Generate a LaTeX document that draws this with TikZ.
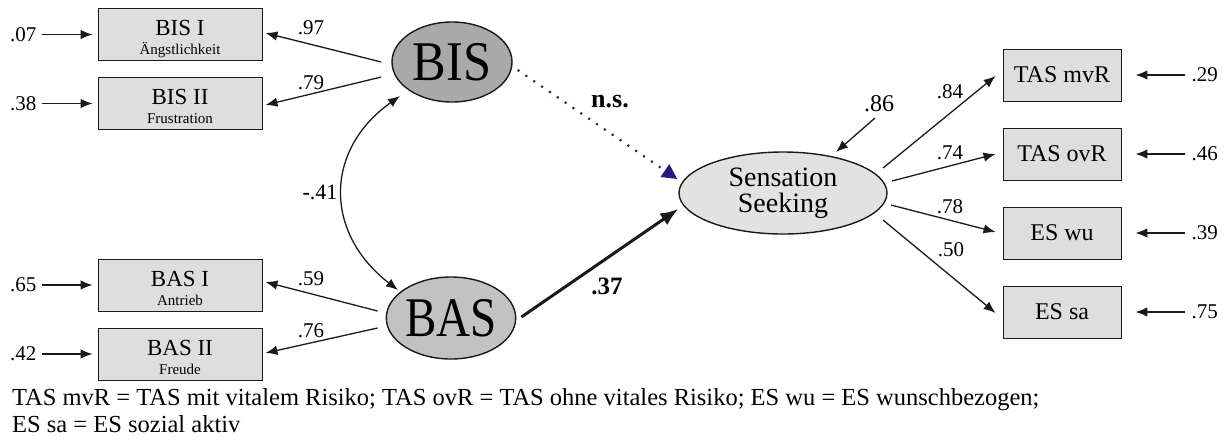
\documentclass[tikz,border=0pt]{standalone}
\usepackage{fontspec}
\setmainfont{Liberation Serif}
\usetikzlibrary{arrows.meta,calc,shapes.geometric}
\newcommand\pxfont[1]{\fontsize{#1}{#1}\selectfont}
\definecolor{boxgray}{HTML}{DEDEDE}
\definecolor{latgray}{HTML}{A9A9A9}
\definecolor{latgrayb}{HTML}{C2C2C2}
\definecolor{ssgray}{HTML}{E2E2E2}
\definecolor{nsblue}{RGB}{40,28,120}
\definecolor{edge}{HTML}{1A1A1A}
\tikzset{
  obs/.style={draw=edge, fill=boxgray, line width=0.9pt, inner sep=0pt},
  obsl/.style={obs, minimum width=164pt, minimum height=52pt},
  obsr/.style={obs, minimum width=118pt, minimum height=52pt, font=\pxfont{24}},
  latent/.style={draw=edge, ellipse, line width=1.4pt, inner sep=0pt},
  arr/.style={draw=edge, line width=1.3pt, -{Latex[length=12pt,width=9.5pt]}},
  coefl/.style={font=\pxfont{21}, inner sep=0pt},
  mainlbl/.style={font=\pxfont{23}, anchor=base, inner sep=0pt},
  sublbl/.style={font=\pxfont{15}, anchor=base, inner sep=0pt},
}
\begin{document}
\begin{tikzpicture}[x=1pt, y=-1pt]
\useasboundingbox (0,0) rectangle (1231,440);

% --- observed indicators of BIS and BAS
\node[obsl] (bis1) at (180,34.5) {};
\node[obsl] (bis2) at (180,103.5) {};
\node[obsl] (bas1) at (180,285) {};
\node[obsl] (bas2) at (180,354) {};

\node[mainlbl] (bis1m) at ([yshift=-1pt]bis1.center) {BIS I};
\node[sublbl]  (bis1s) at ([yshift=-20pt]bis1.center) {Ängstlichkeit};
\node[mainlbl] (bis2m) at ([yshift=-1pt]bis2.center) {BIS II};
\node[sublbl]  (bis2s) at ([yshift=-20pt]bis2.center) {Frustration};
\node[mainlbl] (bas1m) at ([yshift=-1pt]bas1.center) {BAS I};
\node[sublbl]  (bas1s) at ([yshift=-20pt]bas1.center) {Antrieb};
\node[mainlbl] (bas2m) at ([yshift=-1pt]bas2.center) {BAS II};
\node[sublbl]  (bas2s) at ([yshift=-20pt]bas2.center) {Freude};

% --- latent variables
\node[latent, fill=latgray, minimum width=120pt, minimum height=80pt] (bis) at (452,62)
  {\scalebox{0.9}[1]{\pxfont{56}BIS}};
\node[latent, fill=latgrayb, minimum width=122pt, minimum height=82pt] (bas) at (451,318)
  {\scalebox{0.84}[1]{\pxfont{56}BAS}};
\node[latent, fill=ssgray, minimum width=208pt, minimum height=82pt, align=center,
      font=\pxfont{28}] (ss) at (783,193) {Sensation\\[-2pt]Seeking};

% --- observed indicators of Sensation Seeking
\node[obsr] (tas1) at (1062,75)  {TAS mvR};
\node[obsr] (tas2) at (1062,154) {TAS ovR};
\node[obsr] (esw)  at (1062,233) {ES wu};
\node[obsr] (ess)  at (1062,312) {ES sa};

% --- residuals of the left indicators
\foreach \b/\v in {bis1/.07, bis2/.38, bas1/.65, bas2/.42}{
  \node[coefl, anchor=east] (e\b) at ([xshift=-61pt]\b.west) {\v};
  \draw[arr] ([xshift=5pt]e\b.east) -- ([xshift=-5pt]\b.west);
}

% --- residuals of the right indicators
\foreach \b/\v in {tas1/.29, tas2/.46, esw/.39, ess/.75}{
  \node[coefl, anchor=west] (e\b) at ([xshift=70pt]\b.east) {\v};
  \draw[arr] ([xshift=-6pt]e\b.west) -- ([xshift=14pt]\b.east);
}

% --- loadings of BIS and BAS
\coordinate (bisA) at ([shift={(-10,0)}]bis.west);
\coordinate (bisB) at ([shift={(-10,15)}]bis.west);
\coordinate (basA) at ([shift={(-8,-7)}]bas.west);
\coordinate (basB) at ([shift={(-8,10)}]bas.west);
\draw[arr] (bisA) -- ([shift={(3,-1.5)}]bis1.east);
\draw[arr] (bisB) -- ([shift={(3,1.5)}]bis2.east);
\draw[arr] (basA) -- ([shift={(3,-3)}]bas1.east);
\draw[arr] (basB) -- ([shift={(3,-1)}]bas2.east);
\node[coefl] (l97) at (311,28) {.97};
\node[coefl] (l79) at (311,83) {.79};
\node[coefl] (l59) at (311,279) {.59};
\node[coefl] (l76) at (311,331) {.76};

% --- correlation of BIS and BAS
\coordinate (covA) at ([shift={(-52,34)}]bis.center);
\coordinate (covB) at ([shift={(-53,-28)}]bas.center);
\draw[draw=edge, line width=1.3pt, {Latex[length=12pt,width=9.5pt]}-{Latex[length=12pt,width=9.5pt]}]
  (covA) .. controls (324,150) and (324,233) .. (covB);
\node[font=\pxfont{22}, inner sep=0pt] (l41) at (320,192) {\textbf{-}.41};

% --- structural paths
\draw[draw=nsblue, line width=2.2pt, dash pattern=on 2pt off 7.5pt,
      -{Triangle[length=15pt,width=15pt]}]
  ([shift={(5,8)}]bis.east) -- ([shift={(-1,-14)}]ss.west);
\node[font=\pxfont{26}\bfseries, inner sep=0pt] (lns) at (610,102) {n.s.};
\draw[draw=edge, line width=3pt, -{Latex[length=18pt,width=14pt]}]
  ([shift={(5,-1)}]bas.east) -- ([shift={(0,16)}]ss.west);
\node[font=\pxfont{25}\bfseries, inner sep=0pt] (l37) at (607,286) {.37};

% --- residual of Sensation Seeking
\coordinate (ssres) at (875,118);
\draw[arr] (ssres) -- ([shift={(53,-41)}]ss.center);
\node[font=\pxfont{24}, inner sep=0pt] (l86) at (879,104) {.86};

% --- loadings of Sensation Seeking
\coordinate (ssA) at ([shift={(100,-25)}]ss.center);
\coordinate (ssB) at ([shift={(109,-12)}]ss.center);
\coordinate (ssC) at ([shift={(108,12)}]ss.center);
\coordinate (ssD) at ([shift={(100,27)}]ss.center);
\draw[arr] (ssA) -- ([shift={(-7,1)}]tas1.west);
\draw[arr] (ssB) -- ([xshift=-7pt]tas2.west);
\draw[arr] (ssC) -- ([shift={(-7,-1)}]esw.west);
\draw[arr] (ssD) -- ([shift={(-7,1)}]ess.west);
\node[coefl] (l84) at (950,92)  {.84};
\node[coefl] (l74) at (950,153) {.74};
\node[coefl] (l78) at (950,207) {.78};
\node[coefl] (l50) at (951,250) {.50};

% --- legend
\node[font=\pxfont{24.5}, anchor=base west, inner sep=0pt] (leg1) at (12,405)
  {TAS mvR = TAS mit vitalem Risiko; TAS ovR = TAS ohne vitales Risiko; ES wu = ES wunschbezogen;};
\node[font=\pxfont{24.5}, anchor=base west, inner sep=0pt] (leg2) at (12,432)
  {ES sa = ES sozial aktiv};
\end{tikzpicture}
\end{document}
